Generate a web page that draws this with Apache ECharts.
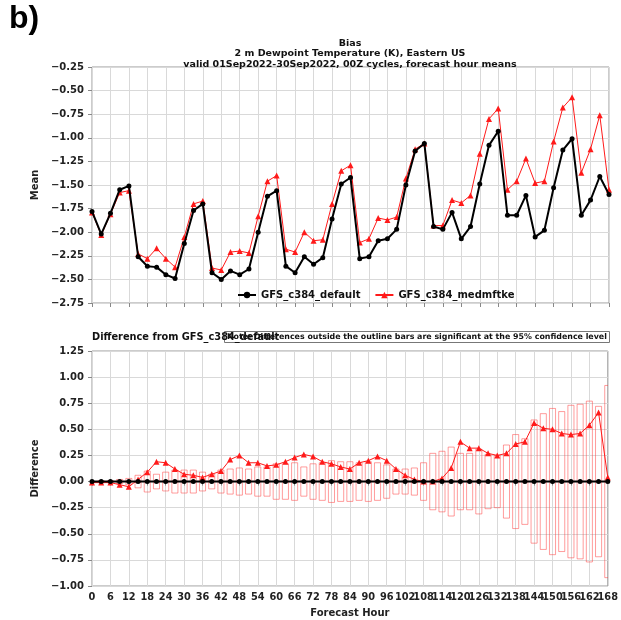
<!DOCTYPE html>
<html lang="en">
<head>
    <meta charset="UTF-8">
    <title>Bias - 2 m Dewpoint Temperature</title>
    <script src="https://cdn.jsdelivr.net/npm/echarts@6.0.0/dist/echarts.min.js"></script>
    <style>
        html, body { margin: 0; padding: 0; background: #fff; }
        #chart { width: 621px; height: 620px; }
    </style>
</head>
<body>
    <div id="chart"></div>
    <script>
        // forecast hours (x categories)
        var hours = [0, 3, 6, 9, 12, 15, 18, 21, 24, 27, 30, 33, 36, 39, 42, 45, 48, 51, 54, 57,
            60, 63, 66, 69, 72, 75, 78, 81, 84, 87, 90, 93, 96, 99, 102, 105, 108, 111, 114, 117,
            120, 123, 126, 129, 132, 135, 138, 141, 144, 147, 150, 153, 156, 159, 162, 165, 168];

        // top panel: mean bias
        var defaultMean = [-1.78, -2.02, -1.80, -1.55, -1.51, -2.26, -2.36, -2.37, -2.45, -2.49,
            -2.12, -1.77, -1.70, -2.43, -2.50, -2.41, -2.45, -2.39, -2.00, -1.62,
            -1.56, -2.36, -2.43, -2.26, -2.34, -2.27, -1.86, -1.49, -1.42, -2.28,
            -2.26, -2.09, -2.07, -1.97, -1.50, -1.14, -1.06, -1.94, -1.97, -1.79,
            -2.07, -1.94, -1.49, -1.08, -0.93, -1.82, -1.82, -1.61, -2.05, -1.98,
            -1.53, -1.13, -1.01, -1.82, -1.66, -1.41, -1.60];
        var medmftkeMean = [-1.79, -2.03, -1.81, -1.58, -1.56, -2.23, -2.28, -2.17, -2.28, -2.37,
            -2.05, -1.70, -1.67, -2.38, -2.40, -2.21, -2.20, -2.22, -1.83, -1.46,
            -1.40, -2.18, -2.21, -2.00, -2.09, -2.08, -1.70, -1.35, -1.29, -2.11,
            -2.07, -1.85, -1.87, -1.84, -1.43, -1.12, -1.06, -1.93, -1.93, -1.66,
            -1.69, -1.61, -1.17, -0.80, -0.69, -1.55, -1.46, -1.22, -1.48, -1.46,
            -1.04, -0.68, -0.57, -1.37, -1.12, -0.76, -1.55];

        // bottom panel: difference from default and 95% half-width of the outline bars
        var medmftkeDiff = [-0.01, -0.01, -0.01, -0.03, -0.05, 0.02, 0.09, 0.19, 0.18, 0.12,
            0.07, 0.06, 0.04, 0.07, 0.10, 0.21, 0.25, 0.18, 0.18, 0.15,
            0.16, 0.19, 0.23, 0.26, 0.24, 0.19, 0.17, 0.14, 0.12, 0.18,
            0.20, 0.24, 0.20, 0.12, 0.06, 0.02, 0.00, 0.00, 0.03, 0.13,
            0.38, 0.32, 0.32, 0.27, 0.25, 0.27, 0.36, 0.38, 0.56, 0.51,
            0.50, 0.46, 0.45, 0.46, 0.54, 0.66, 0.04];
        var ciHalf = [0.00, 0.01, 0.01, 0.02, 0.03, 0.06, 0.10, 0.07, 0.09, 0.11,
            0.11, 0.11, 0.09, 0.07, 0.11, 0.12, 0.13, 0.12, 0.14, 0.14,
            0.17, 0.17, 0.18, 0.14, 0.17, 0.18, 0.20, 0.19, 0.19, 0.18,
            0.19, 0.18, 0.16, 0.12, 0.12, 0.13, 0.18, 0.27, 0.29, 0.33,
            0.27, 0.27, 0.31, 0.26, 0.25, 0.35, 0.45, 0.41, 0.59, 0.65,
            0.70, 0.67, 0.73, 0.74, 0.77, 0.72, 0.92];

        var defaultDiff = defaultMean.map(function (v) { return v - v; });

        function pairs(vals) {
            return hours.map(function (h, i) { return [h, vals[i]]; });
        }

        var FONT = 'DejaVu Sans';
        var labelFmt = function (v) {
            return v.toFixed(2).replace('-', '\u2212');
        };
        var xLabelStyle = { fontFamily: FONT, fontWeight: 'bold', fontSize: 9.8, color: '#222', margin: 6 };

        var chart = echarts.init(document.getElementById('chart'), null, { renderer: 'canvas' });

        var xAxisBase = {
            type: 'value',
            min: 0,
            max: 168,
            interval: 6,
            axisLine: { show: false },
            axisTick: { show: true, length: 4, lineStyle: { color: '#888' } },
            splitLine: { show: true, lineStyle: { color: '#d9d9d9', width: 1 } }
        };
        var yAxisBase = {
            type: 'value',
            interval: 0.25,
            nameLocation: 'middle',
            nameRotate: 90,
            nameTextStyle: { fontFamily: FONT, fontWeight: 'bold', fontSize: 10, color: '#222' },
            axisLine: { show: false },
            axisTick: { show: true, length: 4, lineStyle: { color: '#888' } },
            axisLabel: { fontFamily: FONT, fontWeight: 'bold', fontSize: 10, color: '#222', formatter: labelFmt, margin: 8 },
            splitLine: { show: true, lineStyle: { color: '#d9d9d9', width: 1 } }
        };

        chart.setOption({
            animation: false,
            backgroundColor: '#fff',
            title: [
                {
                    text: 'b)', left: 9, top: 3, padding: 0,
                    textStyle: { fontFamily: 'Liberation Sans', fontWeight: 'bold', fontSize: 32, color: '#000' }
                },
                {
                    text: 'Bias\n2 m Dewpoint Temperature (K), Eastern US\nvalid 01Sep2022-30Sep2022, 00Z cycles, forecast hour means',
                    left: 350, top: 38, textAlign: 'center', padding: 0,
                    textStyle: { fontFamily: FONT, fontWeight: 'bold', fontSize: 9.5, lineHeight: 10.5, color: '#111' }
                },
                {
                    text: 'Difference from GFS_c384_default',
                    left: 92, top: 332, padding: 0,
                    textStyle: { fontFamily: FONT, fontWeight: 'bold', fontSize: 9.8, color: '#111' }
                },
                {
                    text: 'Note: Differences outside the outline bars are significant at the 95% confidence level',
                    left: 224, top: 331,
                    padding: [2, 3, 2, 3],
                    borderColor: '#777', borderWidth: 1,
                    textStyle: { fontFamily: FONT, fontWeight: 'bold', fontSize: 7.9, color: '#111' }
                }
            ],
            legend: {
                left: 232, top: 285,
                itemWidth: 18, itemHeight: 8, itemGap: 14,
                textStyle: { fontFamily: FONT, fontWeight: 'bold', fontSize: 10, color: '#111' },
                data: ['GFS_c384_default', 'GFS_c384_medmftke']
            },
            grid: [
                { left: 92, top: 67, width: 517, height: 236, show: true, borderColor: '#999', borderWidth: 1, backgroundColor: 'transparent' },
                { left: 92, top: 351, width: 517, height: 235, show: true, borderColor: '#999', borderWidth: 1, backgroundColor: 'transparent' }
            ],
            xAxis: [
                Object.assign({}, xAxisBase, { gridIndex: 0, axisLabel: { show: false } }),
                Object.assign({}, xAxisBase, {
                    gridIndex: 1,
                    name: 'Forecast Hour', nameLocation: 'middle', nameGap: 22,
                    nameTextStyle: { fontFamily: FONT, fontWeight: 'bold', fontSize: 10, color: '#222' },
                    axisLabel: Object.assign({}, xLabelStyle, { hideOverlap: false, showMaxLabel: false, showMinLabel: true })
                }),
                // overlay axis carrying only the last tick label (168), which the main axis drops on overlap
                Object.assign({}, xAxisBase, {
                    gridIndex: 1,
                    position: 'bottom',
                    axisTick: { show: false },
                    splitLine: { show: false },
                    axisLabel: Object.assign({}, xLabelStyle, {
                        showMaxLabel: true, showMinLabel: false, hideOverlap: false,
                        formatter: function (v) { return v === 168 ? '168' : ''; }
                    })
                })
            ],
            yAxis: [
                Object.assign({}, yAxisBase, { gridIndex: 0, min: -2.75, max: -0.25, name: 'Mean', nameGap: 46 }),
                Object.assign({}, yAxisBase, { gridIndex: 1, min: -1.0, max: 1.25, name: 'Difference', nameGap: 46 })
            ],
            series: [
                {
                    name: 'GFS_c384_default',
                    type: 'line',
                    xAxisIndex: 0, yAxisIndex: 0,
                    data: pairs(defaultMean),
                    symbol: 'circle', symbolSize: 5,
                    itemStyle: { color: '#000' },
                    lineStyle: { color: '#000', width: 2 },
                    z: 4
                },
                {
                    name: 'GFS_c384_medmftke',
                    type: 'line',
                    xAxisIndex: 0, yAxisIndex: 0,
                    data: pairs(medmftkeMean),
                    symbol: 'triangle', symbolSize: 6,
                    itemStyle: { color: '#ff1a1a' },
                    lineStyle: { color: '#ff1a1a', width: 1 },
                    z: 3
                },
                {
                    name: 'ci',
                    type: 'custom',
                    xAxisIndex: 1, yAxisIndex: 1,
                    clip: true,
                    data: pairs(ciHalf),
                    encode: { x: 0, y: 1 },
                    renderItem: function (params, api) {
                        var x = api.value(0);
                        var h = api.value(1);
                        var p1 = api.coord([x, h]);
                        var p2 = api.coord([x, -h]);
                        var w = api.size([3, 0])[0] * 0.66;
                        return {
                            type: 'rect',
                            shape: { x: p1[0] - w / 2, y: p1[1], width: w, height: Math.max(p2[1] - p1[1], 0.5) },
                            style: { fill: 'rgba(0,0,0,0)', stroke: 'rgba(255,60,60,0.5)', lineWidth: 1 }
                        };
                    },
                    z: 2
                },
                {
                    name: 'GFS_c384_default',
                    type: 'line',
                    xAxisIndex: 1, yAxisIndex: 1,
                    data: pairs(defaultDiff),
                    symbol: 'circle', symbolSize: 5,
                    itemStyle: { color: '#000' },
                    lineStyle: { color: '#000', width: 2 },
                    z: 4
                },
                {
                    name: 'GFS_c384_medmftke',
                    type: 'line',
                    xAxisIndex: 1, yAxisIndex: 1,
                    data: pairs(medmftkeDiff),
                    symbol: 'triangle', symbolSize: 6,
                    itemStyle: { color: '#ff1a1a' },
                    lineStyle: { color: '#ff1a1a', width: 1 },
                    z: 3
                }
            ]
        });
    </script>
</body>
</html>
